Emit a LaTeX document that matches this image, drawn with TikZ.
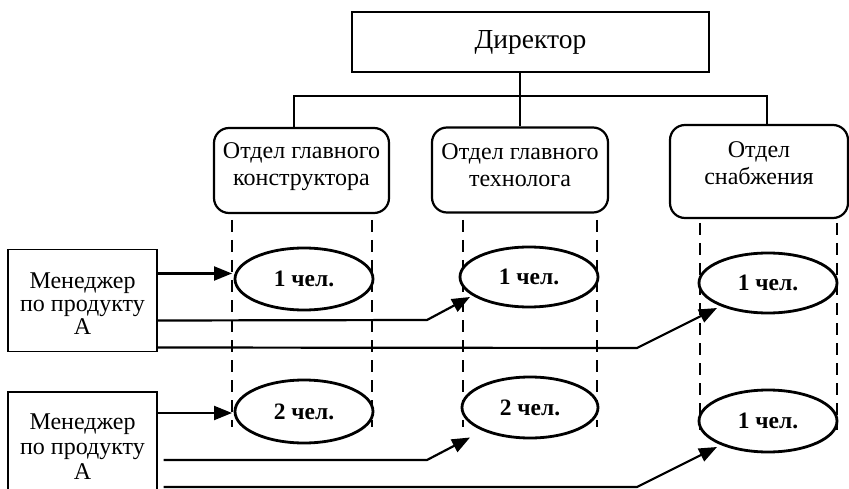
\documentclass[tikz,border=0pt]{standalone}
\usepackage{fontspec}
\setmainfont{Liberation Serif}
\usetikzlibrary{arrows.meta,shapes.geometric,calc}
\begin{document}
\begin{tikzpicture}[x=1pt,y=-1pt,
  txt/.style={font=\fontsize{24}{27}\selectfont, align=center, inner sep=0pt},
  dirbox/.style={draw, line width=1.6pt, minimum width=357pt, minimum height=60pt, inner sep=0pt, font=\fontsize{27.5}{30}\selectfont},
  deptbox/.style={draw, line width=2.2pt, rounded corners=15pt, minimum width=175pt, minimum height=85pt, inner sep=0pt},
  mgrbox/.style={draw, line width=1.4pt, minimum width=149pt, minimum height=102pt, inner sep=0pt},
  person/.style={ellipse, draw, line width=2.8pt, fill=white, minimum width=138pt, minimum height=61pt, inner sep=0pt, font=\fontsize{23.5}{25}\selectfont\bfseries},
  link/.style={line width=2.2pt},
  arr/.style={line width=2.2pt, -{Triangle[length=18pt,width=14pt]}},
  col/.style={line width=2.8pt, dash pattern=on 12pt off 8pt}
]
\useasboundingbox (0,0) rectangle (849,489);
\clip (0,0) rectangle (849,489);

% top hierarchy
\node[dirbox] (dir) at (530.5,42) {Директор};
\node[deptbox] (d1) at (301.5,170.5) {};
\node[txt] (d1t) at ($(d1.center)+(0,-4)$) {Отдел главного\\конструктора};
\node[deptbox, minimum width=176pt] (d2) at (520,170) {};
\node[txt] (d2t) at ($(d2.center)+(0,-5)$) {Отдел главного\\технолога};
\node[deptbox, minimum width=178pt, minimum height=93pt] (d3) at (759,171.5) {};
\node[txt] (d3t) at ($(d3.center)+(0,-8)$) {Отдел\\снабжения};

\coordinate (h1) at (294,96);
\coordinate (h3) at (767,96);
\draw[link] (d2.north) -- (d2.north |- dir.south);
\draw[link] (h1 |- d1.north) -- (h1) -- (h3) -- (h3 |- d3.north);

% dashed columns
\coordinate (c1l) at (232,220); \coordinate (c1r) at (372,220);
\coordinate (c2l) at (463,220); \coordinate (c2r) at (597,220);
\coordinate (c3l) at (700,223); \coordinate (c3r) at (837,223);
\draw[col] (c1l) -- ++(0,207);
\draw[col] (c1r) -- ++(0,207);
\draw[col] (c2l) -- ++(0,207);
\draw[col] (c2r) -- ++(0,207);
\draw[col] (c3l) -- ++(0,207);
\draw[col] (c3r) -- ++(0,207);

% people
\node[person, minimum height=62pt] (e11) at (304,279) {1 чел.};
\node[person, minimum height=60pt] (e21) at (529,277) {1 чел.};
\node[person, minimum height=60pt] (e31) at (768,283) {1 чел.};
\node[person, minimum height=63pt] (e12) at (304,411.5) {2 чел.};
\node[person, minimum width=136pt] (e22) at (530,407.5) {2 чел.};
\node[person, minimum height=62pt] (e32) at (768,421) {1 чел.};

% managers
\node[mgrbox] (m1) at (82.5,300.5) {};
\node[txt, font=\fontsize{24}{23}\selectfont] (m1t) at ($(m1.center)+(0,3)$) {Менеджер\\по продукту\\А};
\node[mgrbox] (m2) at (82.5,443) {};
\node[txt, font=\fontsize{24}{25}\selectfont] (m2t) at ($(m2.center)+(0,4)$) {Менеджер\\по продукту\\А};

% arrows from manager 1
\coordinate (s1) at ($(m1.east)+(0,-27)$);
\draw[arr] (s1) -- (s1 -| c1l);
\coordinate (s2) at ($(m1.east)+(0,20)$);
\coordinate (k2) at (427,320);
\draw[arr] (s2) -- (k2) -- ($(e21.center)+(-59,20)$);
\coordinate (s3) at ($(m1.east)+(0,47)$);
\coordinate (k3) at (637,348);
\draw[arr] (s3) -- (k3) -- ($(e31.center)+(-51,25)$);

% arrows from manager 2
\coordinate (t1) at ($(m2.east)+(0,-30)$);
\draw[arr] (t1) -- (t1 -| c1l);
\coordinate (t2) at ($(m2.east)+(6,17)$);
\coordinate (q2) at (427,460);
\draw[arr] (t2) -- (q2) -- ($(e22.center)+(-60,30)$);
\coordinate (t3) at ($(m2.east)+(6,44)$);
\coordinate (q3) at (637,487);
\draw[arr] (t3) -- (q3) -- ($(e32.center)+(-51,26)$);
\end{tikzpicture}
\end{document}
